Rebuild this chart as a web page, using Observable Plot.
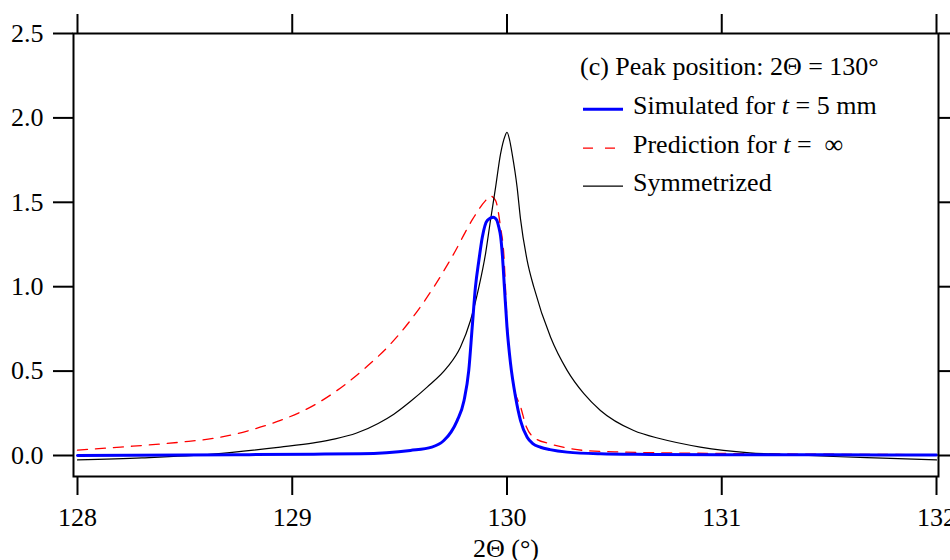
<!DOCTYPE html>
<html>
<head>
<meta charset="utf-8">
<script src="https://cdn.jsdelivr.net/npm/d3@7"></script>
<script src="https://cdn.jsdelivr.net/npm/@observablehq/plot@0.6"></script>
<style>
  body { margin: 0; background: #fff; }
  #wrap { position: relative; width: 950px; height: 560px; font-family: "Liberation Serif", "Times New Roman", serif; }
  #chart svg, #chart svg text { font-family: "Liberation Serif", "Times New Roman", serif !important; }
  #legend { position: absolute; left: 580px; top: 48px; font-size: 26px; color: #000; }
  #legend .row { position: relative; height: 38.8px; line-height: 38.8px; white-space: nowrap; }
  #legend .row span.txt { position: absolute; left: 53px; top: 0; }
  #legend .row svg { position: absolute; left: 3px; top: 0; }
</style>
</head>
<body>
<div id="wrap">
  <div id="chart"></div>
  <div id="legend"></div>
</div>
<script>
// ---- data ----
const simulatedX = [128.0, 128.5, 128.8, 129.1, 129.318, 129.55, 129.65, 129.706, 129.74, 129.768, 129.80, 129.822, 129.838, 129.853, 129.869, 129.885, 129.908, 129.936, 129.952, 129.962, 129.97, 129.978, 129.988, 130.0, 130.016, 130.04, 130.063, 130.094, 130.12, 130.156, 130.2, 130.28, 130.435, 130.6, 131.0, 131.5, 132.0];
const simulatedY = [0.0, 0.003, 0.005, 0.008, 0.01, 0.03, 0.05, 0.089, 0.14, 0.207, 0.326, 0.504, 0.76, 0.997, 1.155, 1.293, 1.392, 1.412, 1.395, 1.352, 1.30, 1.195, 0.997, 0.76, 0.55, 0.345, 0.207, 0.108, 0.07, 0.049, 0.035, 0.02, 0.01, 0.007, 0.005, 0.004, 0.003];

const predictionX = [128.0, 128.2, 128.48, 128.65, 128.79, 128.87, 128.945, 129.10, 129.256, 129.35, 129.45, 129.55, 129.65, 129.75, 129.84, 129.90, 129.923, 129.947, 129.97, 129.985, 130.0, 130.032, 130.063, 130.09, 130.125, 130.2, 130.28, 130.357, 130.54, 130.78, 131.2, 131.6, 132.0];
const predictionY = [0.032, 0.05, 0.079, 0.105, 0.145, 0.175, 0.208, 0.297, 0.43, 0.53, 0.65, 0.80, 0.98, 1.19, 1.40, 1.51, 1.537, 1.51, 1.352, 1.195, 0.80, 0.405, 0.29, 0.17, 0.108, 0.069, 0.045, 0.03, 0.02, 0.015, 0.01, 0.007, 0.005];

const symmetrizedX = [128.0, 128.3, 128.63, 128.945, 129.1, 129.2, 129.3, 129.4, 129.473, 129.55, 129.628, 129.722, 129.783, 129.83, 129.869, 129.90, 129.923, 129.947, 129.97, 129.99, 130.0, 130.012, 130.024, 130.047, 130.063, 130.094, 130.125, 130.203, 130.28, 130.358, 130.435, 130.59, 130.715, 130.9, 131.13, 131.29, 131.52, 131.75, 132.0];
const symmetrizedY = [-0.026, -0.014, 0.008, 0.05, 0.075, 0.098, 0.133, 0.19, 0.245, 0.32, 0.405, 0.523, 0.642, 0.80, 0.997, 1.195, 1.392, 1.59, 1.787, 1.89, 1.915, 1.87, 1.787, 1.59, 1.40, 1.155, 0.997, 0.70, 0.504, 0.366, 0.267, 0.148, 0.099, 0.05, 0.016, 0.006, -0.006, -0.016, -0.026];

const xTicks = [128, 129, 130, 131, 132];
const yTicks = [0.0, 0.5, 1.0, 1.5, 2.0, 2.5];

const legendTitle = "(c) Peak position: 2Θ = 130°";
const seriesNames = ["Simulated for <i>t</i> = 5 mm", "Prediction for <i>t</i> =&nbsp; ∞", "Symmetrized"];
const xLabel = ["2Θ (°)"];

// ---- build tables ----
const toRows = (xs, ys) => xs.map((x, i) => ({x, y: ys[i]}));
const simulated = toRows(simulatedX, simulatedY);
const prediction = toRows(predictionX, predictionY);
const symmetrized = toRows(symmetrizedX, symmetrizedY);

const FONT = "Liberation Serif, Times New Roman, serif";

const chart = Plot.plot({
  width: 950,
  height: 560,
  marginLeft: 73,
  marginRight: 12,
  marginTop: 33,
  marginBottom: 84,
  style: {fontFamily: FONT, fontSize: "26px", color: "#000", background: "#fff"},
  x: {domain: [127.9814, 132.0093]},
  y: {domain: [-0.1244, 2.5]},
  marks: [
    Plot.line(prediction, {x: "x", y: "y", stroke: "#ff0000", strokeWidth: 1.3, strokeDasharray: "10,8", curve: "monotone-x"}),
    Plot.line(symmetrized, {x: "x", y: "y", stroke: "#000", strokeWidth: 1.2, curve: "monotone-x"}),
    Plot.line(simulated, {x: "x", y: "y", stroke: "#0000ff", strokeWidth: 3, curve: "monotone-x"}),
    Plot.frame({stroke: "#000", strokeWidth: 2}),
    Plot.axisX({anchor: "bottom", ticks: xTicks, tickSize: 19, tickPadding: 12, strokeWidth: 2, fontSize: 26, tickFormat: d3.format("d"), label: null}),
    Plot.axisX({anchor: "top", ticks: xTicks, tickSize: 20, strokeWidth: 2, tickFormat: () => "", label: null}),
    Plot.axisY({anchor: "left", ticks: yTicks, tickSize: 20, tickPadding: 10, strokeWidth: 2, fontSize: 26, tickFormat: d3.format(".1f"), label: null}),
    Plot.axisY({anchor: "right", ticks: yTicks, tickSize: 14, strokeWidth: 2, tickFormat: () => "", label: null}),
    Plot.text(xLabel, {text: d => d, frameAnchor: "bottom", dy: 72, lineAnchor: "middle", fontSize: 26, fill: "#000"})
  ]
});
document.getElementById("chart").appendChild(chart);

// ---- legend ----
const legend = document.getElementById("legend");
const styles = [
  {stroke: "#0000ff", width: 3, dash: null},
  {stroke: "#ff0000", width: 1.3, dash: "10,12"},
  {stroke: "#000", width: 1.2, dash: null}
];
const title = document.createElement("div");
title.className = "row";
title.textContent = legendTitle;
legend.appendChild(title);
seriesNames.forEach((name, i) => {
  const row = document.createElement("div");
  row.className = "row";
  const s = styles[i];
  row.innerHTML = `<svg width="42" height="39"><line x1="0" x2="40" y1="22.2" y2="22.2" stroke="${s.stroke}" stroke-width="${s.width}" ${s.dash ? `stroke-dasharray="${s.dash}"` : ""}/></svg><span class="txt">${name}</span>`;
  legend.appendChild(row);
});
</script>
</body>
</html>
